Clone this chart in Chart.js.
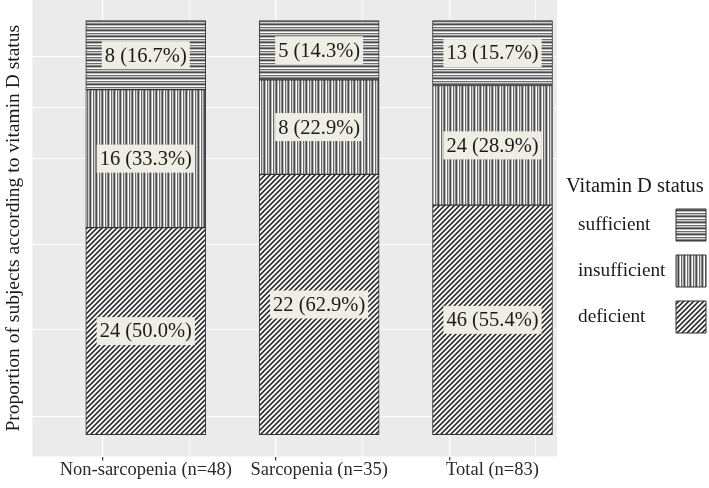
<!DOCTYPE html>
<html>
<head>
<meta charset="utf-8">
<script src="https://cdn.jsdelivr.net/npm/chart.js@4.4.0/dist/chart.umd.min.js"></script>
<style>
  html, body { margin: 0; padding: 0; background: #fff; }
</style>
</head>
<body>
<canvas id="vitdChart" width="709" height="488"></canvas>
<script>
// Vitamin D status by group
const groups = ["Non-sarcopenia (n=48)", "Sarcopenia (n=35)", "Total (n=83)"];
const groupPos = [1, 2, 3];
const sufficient = [8, 5, 13];
const insufficient = [16, 8, 24];
const deficient = [24, 22, 46];
const totals = [48, 35, 83];
// white grid lines as they sit in the picture (proportion units)
const yGrid = [0.044, 0.254, 0.46, 0.668, 0.789, 0.913];
const xGrid = [0.5, 1, 1.5, 2, 2.5, 3];
const legendTitle = "Vitamin D status";

const serif = "'Liberation Serif', 'Times New Roman', serif";

function makePattern(kind) {
  const c = document.createElement("canvas");
  const g = c.getContext("2d");
  if (kind === "diag") {
    const s = 5;
    c.width = s; c.height = s;
    g.fillStyle = "#f4f4f4";
    g.fillRect(0, 0, s, s);
    g.strokeStyle = "#1c1c1c";
    g.lineWidth = 1.5;
    g.beginPath();
    g.moveTo(0, s); g.lineTo(s, 0);
    g.moveTo(-1, 1); g.lineTo(1, -1);
    g.moveTo(s - 1, s + 1); g.lineTo(s + 1, s - 1);
    g.stroke();
  } else {
    const shades = ["#4a4a4a", "#b8b8b8", "#ffffff", "#6a6a6a", "#d0d0d0", "#8a8a8a"];
    const horiz = kind === "horiz";
    c.width = horiz ? 1 : shades.length;
    c.height = horiz ? shades.length : 1;
    shades.forEach((col, i) => {
      g.fillStyle = col;
      if (horiz) g.fillRect(0, i, 1, 1);
      else g.fillRect(i, 0, 1, 1);
    });
  }
  return g.createPattern(c, "repeat");
}

const toPoints = (arr) => arr.map((v, i) => ({ x: groupPos[i], y: v / totals[i], n: v }));

const panelBg = {
  id: "panelBg",
  beforeDraw(chart) {
    const { ctx, chartArea: a } = chart;
    ctx.save();
    ctx.fillStyle = "#ebebeb";
    ctx.fillRect(a.left, a.top, a.right - a.left, a.bottom - a.top);
    ctx.restore();
  },
};

const boxLabels = {
  id: "boxLabels",
  afterDatasetsDraw(chart) {
    const ctx = chart.ctx;
    ctx.save();
    ctx.font = "20.5px " + serif;
    ctx.textAlign = "center";
    ctx.textBaseline = "middle";
    chart.data.datasets.forEach((ds, di) => {
      chart.getDatasetMeta(di).data.forEach((bar, i) => {
        const p = ds.data[i];
        const txt = p.n + " (" + (100 * p.y).toFixed(1) + "%)";
        const cy = (bar.y + bar.base) / 2;
        const w = ctx.measureText(txt).width + 6;
        const h = 28;
        ctx.fillStyle = "#efeee4";
        ctx.fillRect(bar.x - w / 2, cy - h / 2, w, h);
        ctx.fillStyle = "#1a1a1a";
        ctx.fillText(txt, bar.x, cy + 1);
      });
    });
    ctx.restore();
  },
};

// legend title sits a little left of the legend's own text column
const legendHeading = {
  id: "legendHeading",
  afterDraw(chart) {
    const lg = chart.legend;
    const t = chart.options.plugins.legend.title;
    const ctx = chart.ctx;
    ctx.save();
    ctx.font = "20.5px " + serif;
    ctx.fillStyle = "#1a1a1a";
    ctx.textAlign = "left";
    ctx.textBaseline = "middle";
    ctx.fillText(legendTitle, lg.left - 12, lg.top + t.padding.top + 8);
    ctx.restore();
  },
};

const ctx = document.getElementById("vitdChart").getContext("2d");
new Chart(ctx, {
  type: "bar",
  data: {
    datasets: [
      {
        label: "deficient",
        data: toPoints(deficient),
        backgroundColor: makePattern("diag"),
        borderColor: "#333",
        borderWidth: 1,
        borderSkipped: false,
      },
      {
        label: "insufficient",
        data: toPoints(insufficient),
        backgroundColor: makePattern("vert"),
        borderColor: "#333",
        borderWidth: 1,
        borderSkipped: false,
      },
      {
        label: "sufficient",
        data: toPoints(sufficient),
        backgroundColor: makePattern("horiz"),
        borderColor: "#333",
        borderWidth: 1,
        borderSkipped: false,
      },
    ],
  },
  options: {
    responsive: false,
    animation: false,
    barThickness: 120,
    layout: { padding: { left: 0, top: 0, right: -11, bottom: 9 } },
    plugins: {
      tooltip: { enabled: false },
      legend: {
        position: "right",
        align: "start",
        reverse: true,
        rtl: true,
        maxWidth: 142,
        labels: {
          boxWidth: 30,
          boxHeight: 32,
          padding: 14,
          textAlign: "right",
          color: "#1a1a1a",
          font: { family: serif, size: 19.3 },
        },
        title: {
          // keeps the room; the visible heading is drawn by legendHeading
          display: true,
          text: legendTitle,
          color: "rgba(0,0,0,0)",
          font: { family: serif, size: 20, lineHeight: 0.8 },
          padding: { top: 179, bottom: 0 },
        },
      },
    },
    scales: {
      x: {
        type: "linear",
        stacked: true,
        offset: false,
        min: 0.346,
        max: 3.372,
        afterBuildTicks: (scale) => {
          scale.ticks = xGrid.map((v) => ({ value: v }));
        },
        ticks: {
          color: "#2a2a2a",
          font: { family: serif, size: 18.5, lineHeight: 1 },
          padding: 0,
          maxRotation: 0,
          autoSkip: false,
          callback: (v) => (Number.isInteger(v) ? groups[v - 1] : ""),
        },
        grid: {
          color: "#ffffff",
          lineWidth: (c) => (Number.isInteger(c.tick && c.tick.value) ? 1.3 : 0.8),
          tickColor: (c) => (Number.isInteger(c.tick && c.tick.value) ? "#444" : "rgba(0,0,0,0)"),
          tickLength: 4,
        },
        border: { display: false },
      },
      y: {
        stacked: true,
        min: -0.053,
        max: 1.05,
        afterBuildTicks: (scale) => {
          scale.ticks = yGrid.map((v) => ({ value: v }));
        },
        ticks: { display: false },
        grid: { color: "#ffffff", lineWidth: 1.1, drawTicks: false },
        border: { display: false },
        title: {
          display: true,
          text: "Proportion of subjects according to vitamin D status",
          color: "#1a1a1a",
          font: { family: serif, size: 19.5 },
          padding: { top: 2, bottom: 7 },
        },
      },
      // empty axis that only keeps a small gap between panel and legend
      gap: {
        position: "right",
        axis: "y",
        display: true,
        ticks: { display: false },
        grid: { display: false },
        border: { display: false },
        afterFit: (scale) => {
          scale.width = 21;
        },
      },
    },
  },
  plugins: [panelBg, boxLabels, legendHeading],
});
</script>
</body>
</html>
